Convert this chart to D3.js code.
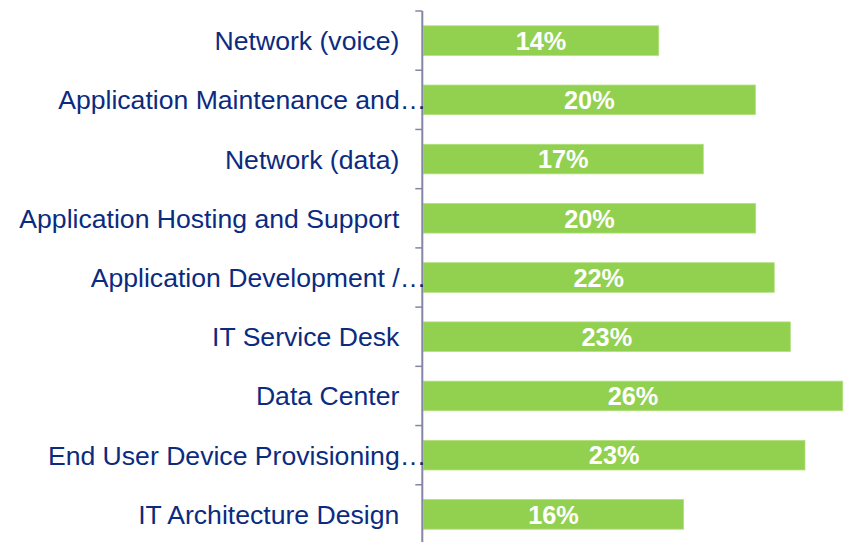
<!DOCTYPE html>
<html>
<head>
<meta charset="utf-8">
<script src="https://cdn.jsdelivr.net/npm/d3@7"></script>
<style>
  html, body { margin: 0; padding: 0; background: #ffffff; }
  svg { display: block; }
</style>
</head>
<body>
<svg id="chart" width="850" height="542"></svg>
<script>
// ---- data ----
const categories = [
  "Network (voice)",
  "Application Maintenance and…",
  "Network (data)",
  "Application Hosting and Support",
  "Application Development /…",
  "IT Service Desk",
  "Data Center",
  "End User Device Provisioning…",
  "IT Architecture Design"
];
const values = [14.47, 20.41, 17.21, 20.43, 21.57, 22.56, 25.78, 23.46, 16.00];
const valueLabels = ["14%", "20%", "17%", "20%", "22%", "23%", "26%", "23%", "16%"];

// ---- layout ----
const svg = d3.select("#chart");
const axisX = 423.3;
const x = d3.scaleLinear().domain([0, 30]).range([axisX, axisX + 30 * 16.27]);
const y = d3.scaleBand().domain(categories).range([11, 544]).paddingInner(0.5).paddingOuter(0.25);
const band = d3.scaleBand().domain(categories).range([11, 544]);

const navy = "#0b2b80";
const axisColor = "#8585a5";

// bars
svg.append("g").selectAll("rect")
  .data(values)
  .join("rect")
  .attr("x", x(0))
  .attr("y", (d, i) => y(categories[i]))
  .attr("width", d => x(d) - x(0))
  .attr("height", y.bandwidth())
  .attr("fill", "#92d050")
  .attr("stroke", "#b3e07f")
  .attr("stroke-width", 0.8);

// value labels
svg.append("g").selectAll("text")
  .data(values)
  .join("text")
  .attr("x", d => (x(0) + x(d)) / 2)
  .attr("y", (d, i) => y(categories[i]) + y.bandwidth() / 2 + 9.3)
  .attr("text-anchor", "middle")
  .attr("font-family", "'Liberation Sans', Arial, sans-serif")
  .attr("font-weight", "bold")
  .attr("font-size", "25.3px")
  .attr("fill", "#ffffff")
  .text((d, i) => valueLabels[i]);

// axis line and ticks (category boundaries)
const axisG = svg.append("g");
axisG.append("line")
  .attr("x1", axisX - 1).attr("x2", axisX - 1)
  .attr("y1", 11).attr("y2", 544)
  .attr("stroke", axisColor).attr("stroke-width", 2);
axisG.selectAll("line.tick")
  .data(categories)
  .join("line")
  .attr("class", "tick")
  .attr("x1", axisX - 8).attr("x2", axisX - 1)
  .attr("y1", d => band(d)).attr("y2", d => band(d))
  .attr("stroke", axisColor).attr("stroke-width", 1.5);

// category labels
svg.append("g").selectAll("text")
  .data(categories)
  .join("text")
  .attr("x", d => d.endsWith("…") ? axisX + 3 : axisX - 24)
  .attr("y", d => y(d) + y.bandwidth() / 2 + 9.5)
  .attr("text-anchor", "end")
  .attr("font-family", "'Liberation Sans', Arial, sans-serif")
  .attr("font-size", "26.6px")
  .attr("fill", navy)
  .text(d => d);
</script>
</body>
</html>
